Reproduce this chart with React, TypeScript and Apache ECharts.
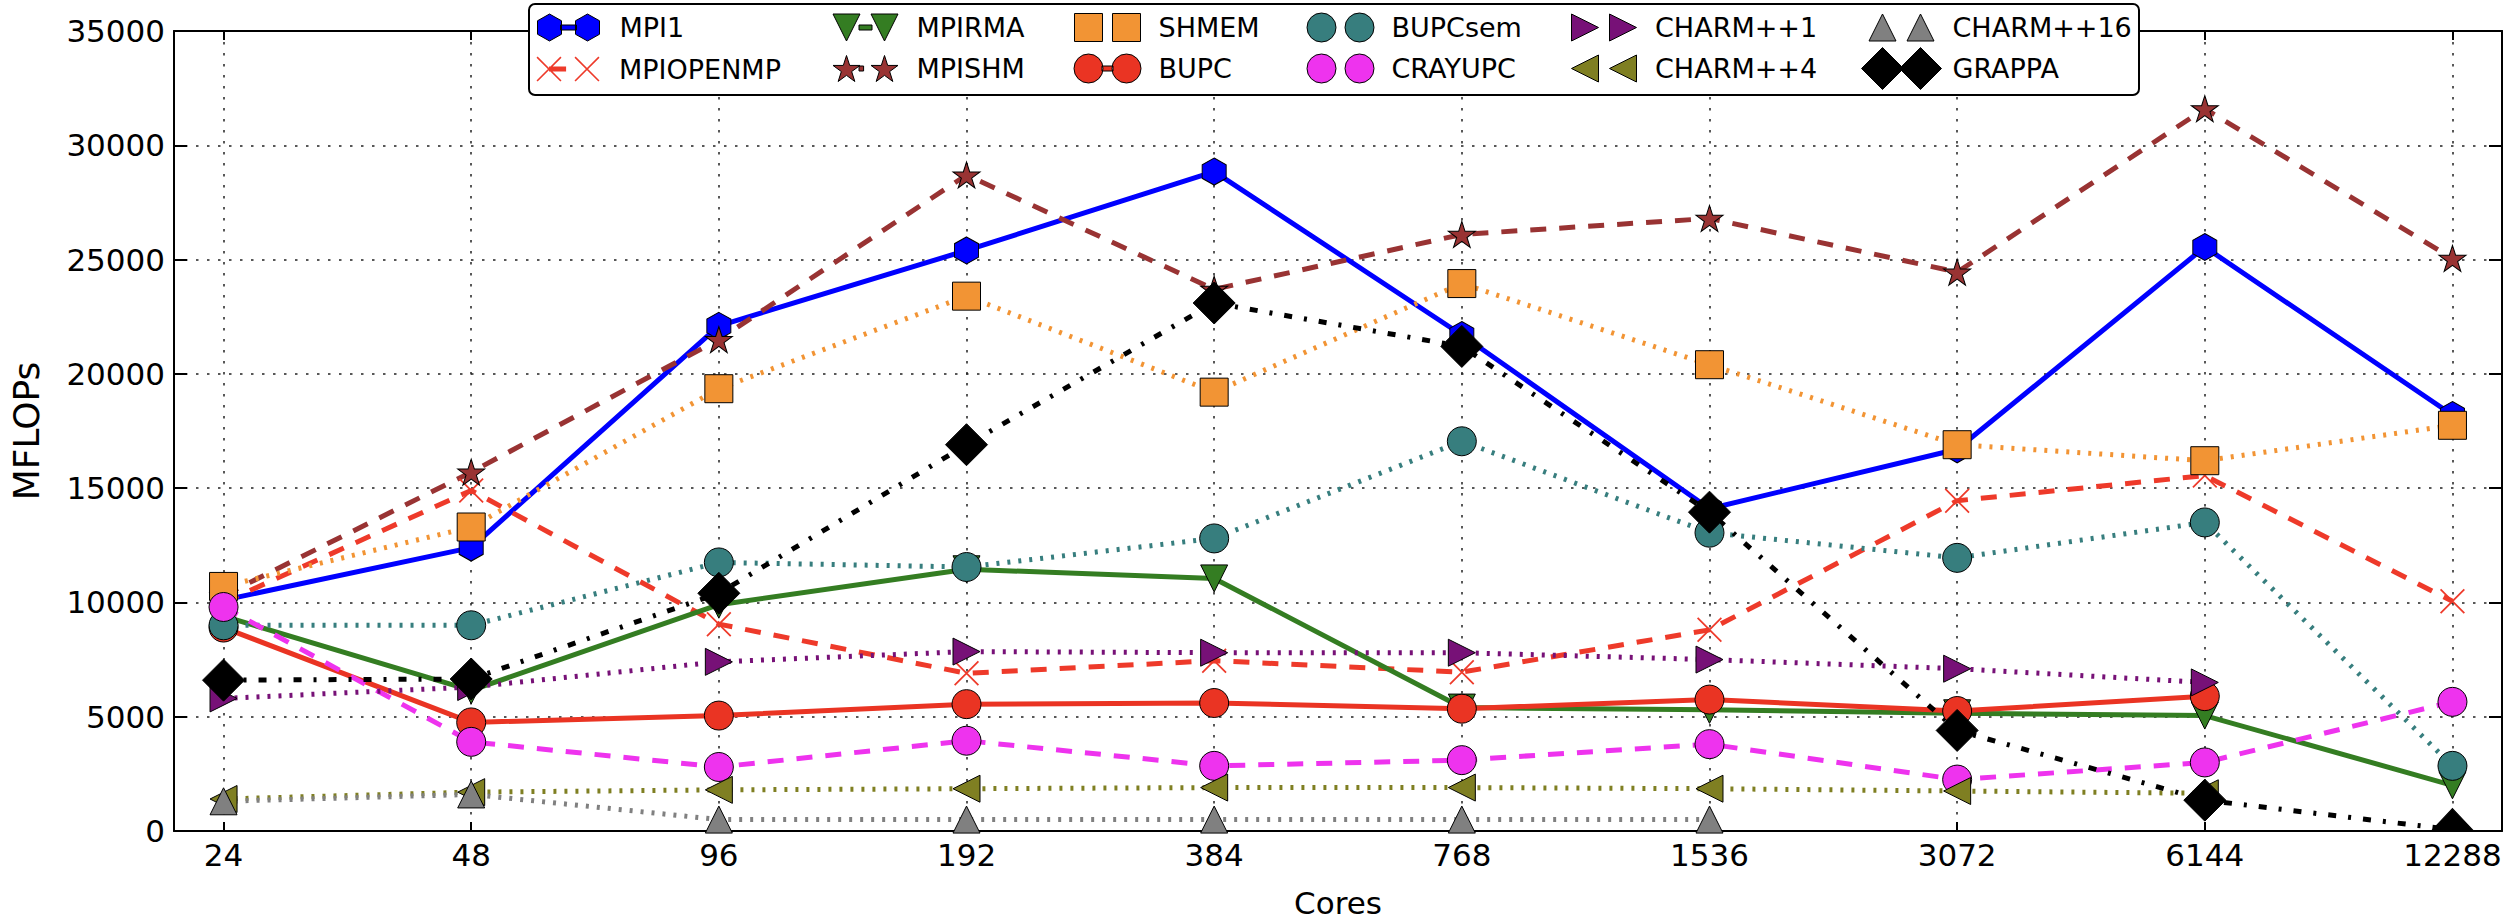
import React, { useEffect, useRef } from 'react';
import * as echarts from 'echarts';

// ---- data ----
const cores = ['24', '48', '96', '192', '384', '768', '1536', '3072', '6144', '12288'];
const mpi1 = [10100, 12400, 22100, 25400, 28850, 21700, 14100, 16700, 25550, 18200];
const mpiopenmp = [10000, 14900, 9050, 6900, 7450, 6950, 8800, 14450, 15550, 10050];
const mpirma = [9400, 6150, 9900, 11450, 11050, 5400, 5300, 5150, 5050, 2000];
const mpishm = [10300, 15700, 21500, 28700, 23700, 26100, 26800, 24450, 31600, 25050];
const shmem = [10700, 13300, 19350, 23400, 19200, 23950, 20400, 16900, 16200, 17750];
const bupc = [8900, 4750, 5050, 5550, 5600, 5350, 5750, 5250, 5900, null];
const bupcsem = [9000, 9000, 11750, 11550, 12800, 17050, 13050, 11950, 13500, 2850];
const crayupc = [9800, 3900, 2800, 3950, 2850, 3100, 3800, 2250, 3000, 5650];
const charm1 = [5800, 6300, 7400, 7850, 7800, 7800, 7500, 7100, 6500, null];
const charm4 = [1400, 1700, 1800, 1850, 1900, 1900, 1850, 1750, 1650, null];
const charm16 = [1300, 1600, 500, 500, 500, 500, 500, null, null, null];
const grappa = [6600, 6650, 10400, 16900, 23100, 21200, 13950, 4400, 1350, 60];

const FONT = 'DejaVu Sans';

type Kind = 'hex' | 'x' | 'tridown' | 'triup' | 'triright' | 'trileft' | 'square' | 'circle' | 'diamond' | 'star';

const poly = (pts: number[][]) =>
  'M' + pts.map((p) => p[0].toFixed(3) + ' ' + p[1].toFixed(3)).join(' L') + ' Z';

function starPts(cx: number, cy: number, w: number, h: number) {
  const raw: number[][] = [];
  for (let k = 0; k < 10; k++) {
    const a = ((-90 + 36 * k) * Math.PI) / 180;
    const r = k % 2 === 0 ? 1 : 0.382;
    raw.push([Math.cos(a) * r, Math.sin(a) * r]);
  }
  const xs = raw.map((p) => p[0]);
  const ys = raw.map((p) => p[1]);
  const x0 = Math.min(...xs), x1 = Math.max(...xs), y0 = Math.min(...ys), y1 = Math.max(...ys);
  return raw.map((p) => [cx - w / 2 + ((p[0] - x0) / (x1 - x0)) * w, cy - h / 2 + ((p[1] - y0) / (y1 - y0)) * h]);
}

function markerPath(kind: Kind, cx: number, cy: number, w: number, h: number, t = 0.05): string {
  const l = cx - w / 2, r = cx + w / 2, tp = cy - h / 2, b = cy + h / 2;
  switch (kind) {
    case 'hex':
      return poly([[cx, tp], [r, cy - h / 4], [r, cy + h / 4], [cx, b], [l, cy + h / 4], [l, cy - h / 4]]);
    case 'x': {
      const dx = t * w, dy = t * h;
      return (
        poly([[l, tp + dy], [l + dx, tp], [r, b - dy], [r - dx, b]]) + ' ' +
        poly([[r - dx, tp], [r, tp + dy], [l + dx, b], [l, b - dy]])
      );
    }
    case 'tridown':
      return poly([[l, tp], [r, tp], [cx, b]]);
    case 'triup':
      return poly([[cx, tp], [r, b], [l, b]]);
    case 'triright':
      return poly([[l, tp], [r, cy], [l, b]]);
    case 'trileft':
      return poly([[r, tp], [l, cy], [r, b]]);
    case 'square':
      return poly([[l, tp], [r, tp], [r, b], [l, b]]);
    case 'diamond':
      return poly([[cx, tp], [r, cy], [cx, b], [l, cy]]);
    case 'circle': {
      const rx = w / 2, ry = h / 2;
      return `M${l} ${cy} A${rx} ${ry} 0 1 0 ${r} ${cy} A${rx} ${ry} 0 1 0 ${l} ${cy} Z`;
    }
    case 'star':
      return poly(starPts(cx, cy, w, h));
  }
  return '';
}

const DASHED = [16, 13];
const DOTTED = [3, 8];
const DASHDOT = [8, 12, 3, 12];

interface Def {
  name: string;
  values: (number | null)[];
  color: string;
  line: 'solid' | number[];
  kind: Kind;
  size: [number, number];
  bar: null | [number, number];
  col: number;
  row: number;
}

const defs: Def[] = [
  { name: 'MPI1', values: mpi1, color: '#0000ff', line: 'solid', kind: 'hex', size: [24, 27], bar: [0, 1], col: 0, row: 0 },
  { name: 'MPIOPENMP', values: mpiopenmp, color: '#ee3a2a', line: DASHED, kind: 'x', size: [25, 25], bar: [0, 0.45], col: 0, row: 1 },
  { name: 'MPIRMA', values: mpirma, color: '#347d22', line: 'solid', kind: 'tridown', size: [27, 27], bar: [0, 1], col: 1, row: 0 },
  { name: 'MPISHM', values: mpishm, color: '#993333', line: DASHED, kind: 'star', size: [27, 26], bar: [0, 0.45], col: 1, row: 1 },
  { name: 'SHMEM', values: shmem, color: '#f29434', line: DOTTED, kind: 'square', size: [28, 28], bar: null, col: 2, row: 0 },
  { name: 'BUPC', values: bupc, color: '#ea3423', line: 'solid', kind: 'circle', size: [29, 29], bar: [0, 1], col: 2, row: 1 },
  { name: 'BUPCsem', values: bupcsem, color: '#377e7e', line: DOTTED, kind: 'circle', size: [29, 29], bar: null, col: 3, row: 0 },
  { name: 'CRAYUPC', values: crayupc, color: '#ee33ee', line: DASHED, kind: 'circle', size: [29, 29], bar: null, col: 3, row: 1 },
  { name: 'CHARM++1', values: charm1, color: '#771177', line: DOTTED, kind: 'triright', size: [27, 27], bar: null, col: 4, row: 0 },
  { name: 'CHARM++4', values: charm4, color: '#7f7f22', line: DOTTED, kind: 'trileft', size: [27, 27], bar: null, col: 4, row: 1 },
  { name: 'CHARM++16', values: charm16, color: '#808080', line: DOTTED, kind: 'triup', size: [27, 27], bar: null, col: 5, row: 0 },
  { name: 'GRAPPA', values: grappa, color: '#000000', line: DASHDOT, kind: 'diamond', size: [42, 42], bar: null, col: 5, row: 1 },
];

// legend layout (pixels)
const colCenters = [568, 865, 1107, 1340, 1603.5, 1901];
const rowCenters = [27, 68];
const HALF = 19; // marker centre offset in legend handle
const TEXT_OFF = 51;

// y-axis scale used only to clip markers that straddle the bottom spine
const Y_MAX = 35000;
const PLOT_H = 802;

function seriesSymbol(d: Def): string {
  if (d.kind === 'circle') return 'circle';
  if (d.kind === 'square') return 'rect';
  if (d.kind === 'diamond') return 'diamond';
  if (d.kind === 'triup') return 'triangle';
  return 'path://' + markerPath(d.kind, 0.5, 0.5, 1, 1, 0.05);
}

function legendFor(d: Def) {
  const [mw, mh] = d.size;
  const W = 2 * HALF + mw;
  const H = mh;
  const c1 = mw / 2, c2 = mw / 2 + 2 * HALF, cy = H / 2;
  let p = markerPath(d.kind, c1, cy, mw, mh, 0.045) + ' ' + markerPath(d.kind, c2, cy, mw, mh, 0.045);
  if (d.bar) {
    const span = c2 - c1;
    let x0 = c1 + span * d.bar[0];
    let x1 = c1 + span * d.bar[1];
    if (d.kind !== 'x') {
      x0 = Math.max(x0, c1 + mw / 2 - 1);
      x1 = Math.min(x1, c2 - mw / 2 + 1);
    }
    if (x1 > x0) p += ' ' + poly([[x0, cy - 2.5], [x1, cy - 2.5], [x1, cy + 2.5], [x0, cy + 2.5]]);
  }
  const center = colCenters[d.col];
  const pad = TEXT_OFF - W / 2 - 5;
  return {
    show: true,
    orient: 'vertical',
    left: center - W / 2,
    top: rowCenters[d.row] - H / 2,
    padding: 0,
    itemWidth: W,
    itemHeight: H,
    selectedMode: false,
    z: 20,
    data: [
      {
        name: d.name,
        icon: 'path://' + p,
        itemStyle: {
          color: d.color,
          borderColor: '#000',
          borderWidth: d.kind === 'x' ? 0 : 1,
        },
      },
    ],
    textStyle: { fontSize: 27, fontFamily: FONT, color: '#000', padding: [0, 0, 0, pad] },
  };
}

function seriesData(d: Def) {
  const out: any[] = [];
  d.values.forEach((v, i) => {
    if (v === null) return;
    const halfH = d.size[1] / 2;
    const py = (v / Y_MAX) * PLOT_H; // pixel height above the bottom spine
    if (d.kind === 'diamond' && py < halfH) {
      // marker is cut by the axes frame: only the part above the spine shows
      const visH = halfH + py;
      const frac = visH / d.size[1];
      const w = d.size[0] * Math.min(1, (2 * visH) / d.size[1] > 1 ? 1 : frac * 2) ;
      out.push({
        value: [i, v],
        symbol: 'triangle',
        symbolSize: [w, visH - py > 0 ? visH : visH],
        symbolOffset: [0, -(visH / 2 - py)],
      });
    } else {
      out.push([i, v]);
    }
  });
  return out;
}

const idx = cores.map((_, i) => i);

export default function App() {
  const ref = useRef<HTMLDivElement>(null);
  useEffect(() => {
    document.body.style.margin = '0';
    const chart = echarts.init(ref.current!, null, { renderer: 'svg' });
    const axisLine = { show: true, onZero: false, lineStyle: { color: '#000', width: 2 } };
    const grid = { color: '#222', width: 1.5, type: [2.5, 8.5] };
    const series = defs.map((d) => ({
      type: 'line',
      name: d.name,
      xAxisIndex: 0,
      yAxisIndex: 0,
      data: seriesData(d),
      symbol: seriesSymbol(d),
      symbolSize: d.size,
      showSymbol: true,
      lineStyle: { color: d.color, width: 5, type: d.line, cap: 'butt' },
      itemStyle: { color: d.color, borderColor: '#000', borderWidth: d.kind === 'x' ? 0 : 1, opacity: 1 },
      emphasis: { disabled: true },
      z: 2,
    }));
    const option: any = {
      animation: false,
      backgroundColor: '#ffffff',
      textStyle: { fontFamily: FONT },
      grid: { left: 172, right: 15, top: 31, bottom: 90, containLabel: false },
      xAxis: [
        {
          type: 'value',
          min: -0.2,
          max: 9.2,
          position: 'bottom',
          name: 'Cores',
          nameLocation: 'middle',
          nameGap: 56,
          nameTextStyle: { fontSize: 31, color: '#000', fontFamily: FONT },
          axisLine,
          axisTick: { show: true, inside: true, length: 9, customValues: idx, lineStyle: { color: '#000', width: 2 } },
          axisLabel: {
            show: true,
            customValues: idx,
            formatter: (v: number) => cores[Math.round(v)] ?? '',
            fontSize: 31,
            color: '#000',
            margin: 8,
            fontFamily: FONT,
          },
          splitLine: { show: true, lineStyle: grid },
        },
        {
          type: 'value',
          min: -0.2,
          max: 9.2,
          position: 'top',
          axisLine,
          axisTick: { show: true, inside: true, length: 9, customValues: idx, lineStyle: { color: '#000', width: 2 } },
          axisLabel: { show: false },
          splitLine: { show: false },
        },
      ],
      yAxis: [
        {
          type: 'value',
          min: 0,
          max: Y_MAX,
          interval: 5000,
          position: 'left',
          name: 'MFLOPs',
          nameLocation: 'middle',
          nameGap: 130,
          nameTextStyle: { fontSize: 36, color: '#000', fontFamily: FONT },
          axisLine,
          axisTick: { show: true, inside: true, length: 13, lineStyle: { color: '#000', width: 2 } },
          axisLabel: { show: true, formatter: (v: number) => String(v), fontSize: 31, color: '#000', margin: 9, fontFamily: FONT },
          splitLine: { show: true, lineStyle: grid },
        },
        {
          type: 'value',
          min: 0,
          max: Y_MAX,
          interval: 5000,
          position: 'right',
          axisLine,
          axisTick: { show: true, inside: true, length: 13, lineStyle: { color: '#000', width: 2 } },
          axisLabel: { show: false },
          splitLine: { show: false },
        },
      ],
      graphic: [
        {
          type: 'rect',
          z: 15,
          shape: { x: 529, y: 4, width: 1610, height: 91, r: 6 },
          style: { fill: '#ffffff', stroke: '#000', lineWidth: 2 },
        },
      ],
      legend: defs.map(legendFor),
      series,
    };
    chart.setOption(option);
    return () => chart.dispose();
  }, []);
  return <div ref={ref} style={{ width: 2517, height: 923 }} />;
}
